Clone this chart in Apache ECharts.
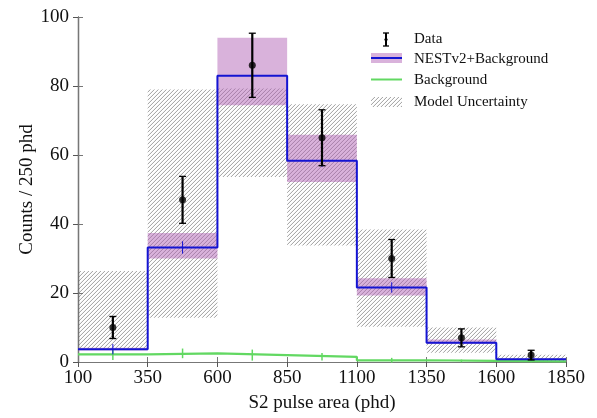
<!DOCTYPE html>
<html>
<head>
<meta charset="utf-8">
<script src="https://cdn.jsdelivr.net/npm/echarts@6/dist/echarts.min.js"></script>
<style>html,body{margin:0;padding:0;background:#fff}#c{width:597px;height:418px}</style>
</head>
<body>
<div id="c"></div>
<script>
// ---- data ----
var binEdges = [100, 350, 600, 850, 1100, 1350, 1600, 1850];
var xTickLabels = ['100', '350', '600', '850', '1100', '1350', '1600', '1850'];
var yTickValues = [0, 20, 40, 60, 80, 100];
var dataCounts = [10, 47, 86, 65, 30, 7, 2];
var dataErr = [3.2, 6.8, 9.3, 8.1, 5.5, 2.6, 1.4];
var nestCounts = [3.7, 33.2, 83.0, 58.3, 21.6, 5.6, 0.8];
var nestErr = [1.5, 1.8, 2.0, 1.8, 1.5, 0.8, 0.3];
var nestBandLow = [3.3, 30.0, 74.4, 52.2, 19.3, 5.2, 0.6];
var nestBandHigh = [4.1, 37.4, 94.0, 65.9, 24.3, 6.5, 1.0];
var bgCounts = [2.2, 2.5, 2.0, 1.5, 0.5, 0.3, 0.2];
var bgErr = [1.6, 1.4, 1.6, 1.1, 0.7, 0.4, 0.3];
var modelLow = [3.7, 12.8, 53.6, 33.8, 10.2, 2.7, 0.0];
var modelHigh = [26.4, 79.0, 79.3, 74.7, 38.4, 10.0, 2.1];
var legendNames = ['Data', 'NESTv2+Background', 'Background', 'Model Uncertainty'];

// ---- helpers ----
var x0 = binEdges[0];
function ax(v) { return v - x0; }          // axis coordinate (axis starts at 0)
var FONT = '"Liberation Serif", "DejaVu Serif", serif';
var BLUE = '#1414d2', GREEN = '#62d862', PURPLE = 'rgba(175,95,180,0.48)';

// hatch pattern
var hc = document.createElement('canvas');
hc.width = 4; hc.height = 4;
var hctx = hc.getContext('2d');
var img = hctx.createImageData(4, 4);
for (var yy = 0; yy < 4; yy++) for (var xx = 0; xx < 4; xx++) {
  var k = (yy * 4 + xx) * 4;
  var d = (xx + yy) % 4;
  var a = d === 3 ? 145 : (d === 2 ? 18 : 0);
  img.data[k] = 105; img.data[k+1] = 105; img.data[k+2] = 105; img.data[k+3] = a;
}
hctx.putImageData(img, 0, 0);
var hatch = { image: hc, repeat: 'repeat' };

var centers = [];
for (var i = 0; i < dataCounts.length; i++) centers.push((binEdges[i] + binEdges[i+1]) / 2);

function boxes(lo, hi) {
  return lo.map(function (v, i) { return [ax(binEdges[i]), ax(binEdges[i+1]), v, hi[i]]; });
}
function steps(vals) {
  var out = vals.map(function (v, i) { return [ax(binEdges[i]), v]; });
  out.push([ax(binEdges[binEdges.length - 1]), vals[vals.length - 1]]);
  return out;
}
function errs(vals, e) {
  return vals.map(function (v, i) { return [ax(centers[i]), v - e[i], v + e[i]]; });
}
function rectRender(fill) {
  return function (params, api) {
    var p0 = api.coord([api.value(0), api.value(3)]);
    var p1 = api.coord([api.value(1), api.value(2)]);
    return { type: 'rect', shape: { x: p0[0], y: p0[1], width: p1[0] - p0[0], height: p1[1] - p0[1] },
             style: { fill: fill } };
  };
}
function errRender(color, width, cap) {
  return function (params, api) {
    var a = api.coord([api.value(0), api.value(1)]);
    var b = api.coord([api.value(0), api.value(2)]);
    var ch = [{ type: 'line', shape: { x1: a[0], y1: a[1], x2: b[0], y2: b[1] }, style: { stroke: color, lineWidth: width } }];
    if (cap) {
      ch.push({ type: 'line', shape: { x1: a[0]-cap, y1: a[1], x2: a[0]+cap, y2: a[1] }, style: { stroke: color, lineWidth: 1.3 } });
      ch.push({ type: 'line', shape: { x1: b[0]-cap, y1: b[1], x2: b[0]+cap, y2: b[1] }, style: { stroke: color, lineWidth: 1.3 } });
    }
    return { type: 'group', children: ch };
  };
}

var xSpan = binEdges[binEdges.length - 1] - x0;
var axisBase = {
  type: 'value', min: 0, max: xSpan, interval: binEdges[1] - binEdges[0],
  splitLine: { show: false }
};
var chart = echarts.init(document.getElementById('c'), null, { renderer: 'canvas' });
chart.setOption({
  animation: false,
  backgroundColor: '#fff',
  grid: { left: 78, right: 31, top: 17, bottom: 56, containLabel: false },
  xAxis: [
    Object.assign({}, axisBase, {
      position: 'bottom',
      name: 'S2 pulse area (phd)', nameLocation: 'middle', nameGap: 32, nameMoveOverlap: false,
      nameTextStyle: { fontFamily: FONT, fontSize: 19, color: '#111' },
      axisLine: { lineStyle: { color: '#555', width: 1.2 } },
      axisTick: { inside: false, length: 5, lineStyle: { color: '#555' } },
      axisLabel: { fontFamily: FONT, fontSize: 19, color: '#111', margin: 7,
        formatter: function (v) { var idx = Math.round(v / (binEdges[1] - binEdges[0])); return xTickLabels[idx]; } }
    }),
    Object.assign({}, axisBase, {
      position: 'top',
      axisLine: { lineStyle: { color: '#777', width: 1.2 } },
      axisTick: { inside: false, length: 5, lineStyle: { color: '#777' } },
      axisLabel: { show: false }
    })
  ],
  yAxis: [
    {
      type: 'value', min: yTickValues[0], max: yTickValues[yTickValues.length - 1], interval: yTickValues[1] - yTickValues[0],
      position: 'left',
      name: 'Counts / 250 phd', nameLocation: 'middle', nameGap: 41, nameMoveOverlap: false,
      nameTextStyle: { fontFamily: FONT, fontSize: 19, color: '#111' },
      splitLine: { show: false },
      axisLine: { show: true, lineStyle: { color: '#000', width: 1.2 } },
      axisTick: { show: true, inside: false, length: 5, lineStyle: { color: '#555' } },
      axisLabel: { fontFamily: FONT, fontSize: 19, color: '#111', margin: 9 }
    },
    {
      type: 'value', min: yTickValues[0], max: yTickValues[yTickValues.length - 1], interval: yTickValues[1] - yTickValues[0],
      position: 'right',
      splitLine: { show: false },
      axisLine: { show: true, lineStyle: { color: '#777', width: 1.2 } },
      axisTick: { show: true, inside: false, length: 5, lineStyle: { color: '#777' } },
      axisLabel: { show: false }
    }
  ],
  series: [
    { name: legendNames[3], type: 'custom', renderItem: rectRender(hatch), clip: true, z: 1,
      encode: { x: [0, 1], y: [2, 3] }, data: boxes(modelLow, modelHigh) },
    { name: legendNames[1] + ' band', type: 'custom', renderItem: rectRender(PURPLE), clip: true, z: 2,
      encode: { x: [0, 1], y: [2, 3] }, data: boxes(nestBandLow, nestBandHigh) },
    { name: legendNames[2], type: 'line', step: 'end', symbol: 'none', z: 3,
      lineStyle: { color: GREEN, width: 2.2 }, data: steps(bgCounts) },
    { name: legendNames[2] + ' err', type: 'custom', renderItem: errRender(GREEN, 1.5, 0), z: 3,
      encode: { x: 0, y: [1, 2] }, data: errs(bgCounts, bgErr) },
    { name: legendNames[1], type: 'line', step: 'end', symbol: 'none', z: 4,
      lineStyle: { color: BLUE, width: 2 }, data: steps(nestCounts) },
    { name: legendNames[1] + ' err', type: 'custom', renderItem: errRender(BLUE, 1, 0), z: 4,
      encode: { x: 0, y: [1, 2] }, data: errs(nestCounts, nestErr) },
    { name: legendNames[0] + ' err', type: 'custom', renderItem: errRender('#000', 2.2, 3.5), z: 5,
      encode: { x: 0, y: [1, 2] }, data: errs(dataCounts, dataErr) },
    { name: legendNames[0], type: 'scatter', symbol: 'circle', symbolSize: 7, z: 6,
      itemStyle: { color: '#000' },
      data: dataCounts.map(function (v, i) { return [ax(centers[i]), v]; }) }
  ],
  graphic: [
    // Data icon
    { type: 'line', shape: { x1: 386, y1: 33, x2: 386, y2: 46 }, style: { stroke: '#000', lineWidth: 2 } },
    { type: 'line', shape: { x1: 383, y1: 33, x2: 389, y2: 33 }, style: { stroke: '#000', lineWidth: 1.3 } },
    { type: 'line', shape: { x1: 383, y1: 46, x2: 389, y2: 46 }, style: { stroke: '#000', lineWidth: 1.3 } },
    { type: 'circle', shape: { cx: 386, cy: 39.5, r: 1.6 }, style: { fill: '#000' } },
    { type: 'text', x: 414, y: 39, style: { text: legendNames[0], font: '15px ' + FONT, fill: '#111', verticalAlign: 'middle' } },
    // NEST icon
    { type: 'rect', shape: { x: 371, y: 53, width: 31, height: 10 }, style: { fill: PURPLE } },
    { type: 'line', shape: { x1: 371, y1: 58, x2: 402, y2: 58 }, style: { stroke: BLUE, lineWidth: 2 } },
    { type: 'text', x: 414, y: 59, style: { text: legendNames[1], font: '15px ' + FONT, fill: '#111', verticalAlign: 'middle' } },
    // Background icon
    { type: 'line', shape: { x1: 371, y1: 79.5, x2: 402, y2: 79.5 }, style: { stroke: GREEN, lineWidth: 2 } },
    { type: 'text', x: 414, y: 80, style: { text: legendNames[2], font: '15px ' + FONT, fill: '#111', verticalAlign: 'middle' } },
    // Model uncertainty icon
    { type: 'rect', shape: { x: 371, y: 97, width: 31, height: 10 }, style: { fill: hatch } },
    { type: 'text', x: 414, y: 102, style: { text: legendNames[3], font: '15px ' + FONT, fill: '#111', verticalAlign: 'middle' } }
  ]
});
</script>
</body>
</html>
